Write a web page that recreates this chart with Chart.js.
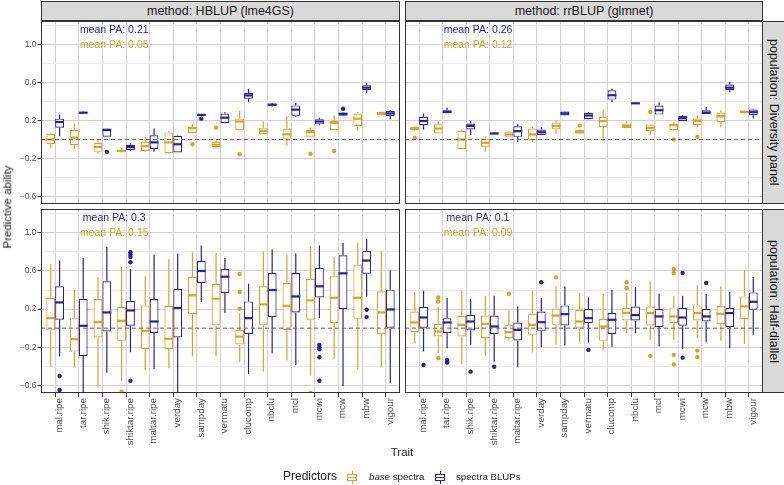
<!DOCTYPE html>
<html lang="en">
<head>
<meta charset="UTF-8" />
<title>Predictive ability by trait</title>
<script src="https://cdn.jsdelivr.net/npm/chart.js"></script>
<style>
  body { margin: 0; background: #fff; }
  #fig { position: relative; width: 784px; height: 485px; overflow: hidden;
         font-family: "Liberation Sans", Arial, sans-serif; color: #1a1a1a; }
  #fig canvas { position: absolute; }
  .strip { position: absolute; box-sizing: border-box; background: #d9d9d9; border: 1px solid #333;
           font-size: 12.5px; display: flex; align-items: center; justify-content: center; white-space: nowrap; }
  .strip.side { writing-mode: vertical-rl; }
  .lbl { position: absolute; white-space: nowrap; line-height: 1; }
  .key { position: absolute; width: 10px; height: 13px; }
  .key i { position: absolute; display: block; }
  .key .wh { left: 4.5px; top: 0; width: 1.2px; height: 13px; }
  .key .bx { left: 0; top: 3px; width: 10px; height: 7px; box-sizing: border-box; border: 1.2px solid; background: #fff; }
  .key .md { left: 0; right: 0; top: 1.6px; height: 1.6px; }
</style>
</head>
<body>
<div id="fig">
  <div class="strip" style="left:41px;top:1px;width:359px;height:20px">method: HBLUP (lme4GS)</div>
  <div class="strip" style="left:405px;top:1px;width:358px;height:20px">method: rrBLUP (glmnet)</div>
  <div class="strip side" style="left:762px;top:21px;width:24px;height:183px">population: Diversity panel</div>
  <div class="strip side" style="left:762px;top:209px;width:24px;height:184px">population: Half-diallel</div>

  <canvas id="c1" width="400" height="183" style="left:0;top:21px"></canvas>
  <canvas id="c2" width="358" height="183" style="left:405px;top:21px"></canvas>
  <canvas id="c3" width="400" height="246" style="left:0;top:209px"></canvas>
  <canvas id="c4" width="358" height="246" style="left:405px;top:209px"></canvas>

  <div class="lbl" style="left:8px;top:207px;font-size:11.5px;transform:translate(-50%,-50%) rotate(-90deg)">Predictive ability</div>
  <div class="lbl" style="left:402px;top:453px;font-size:11.5px;transform:translate(-50%,-50%)">Trait</div>

  <div class="lbl" style="left:283px;top:470px;font-size:12px">Predictors</div>
  <div class="key" style="left:347px;top:471px"><i class="wh" style="background:#DBA229"></i><i class="bx" style="border-color:#DBA229"><i class="md" style="background:#DBA229"></i></i></div>
  <div class="lbl" style="left:369px;top:472px;font-size:9.7px"><i>base</i> spectra</div>
  <div class="key" style="left:435px;top:471px"><i class="wh" style="background:#23239B"></i><i class="bx" style="border-color:#23239B"><i class="md" style="background:#23239B"></i></i></div>
  <div class="lbl" style="left:456px;top:472px;font-size:9.7px">spectra BLUPs</div>
</div>

<script>
  const traits = ['mal.ripe', 'tar.ripe', 'shik.ripe', 'shiktar.ripe', 'maltar.ripe', 'verday', 'sampday',
    'vermatu', 'clucomp', 'nbclu', 'mcl', 'mcwi', 'mcw', 'mbw', 'vigour'];
  const yTicks = [-0.6, -0.4, -0.2, 0, 0.2, 0.4, 0.6, 0.8, 1.0, 1.2];
  const yLabelled = [-0.6, -0.2, 0.2, 0.6, 1.0];

  // each box: [lower whisker, q1, median, q3, upper whisker]
  const hblupDiversityBase = [
    [-0.09, -0.05, 0.0, 0.06, 0.075], [-0.1, -0.06, 0.02, 0.1, 0.17], [-0.15, -0.13, -0.08, -0.035, 0.0],
    [-0.14, -0.135, -0.12, -0.11, -0.085], [-0.13, -0.12, -0.07, -0.025, 0.03], [-0.15, -0.145, -0.03, 0.075, 0.09],
    [0.065, 0.07, 0.12, 0.135, 0.17], [-0.095, -0.08, -0.055, -0.025, -0.005], [0.1, 0.1, 0.19, 0.22, 0.3],
    [0.055, 0.055, 0.09, 0.125, 0.19], [-0.065, 0.01, 0.055, 0.115, 0.245], [0.03, 0.03, 0.08, 0.1, 0.125],
    [0.1, 0.1, 0.175, 0.195, 0.255], [0.09, 0.14, 0.22, 0.275, 0.29], [0.25, 0.255, 0.275, 0.29, 0.295]];
  const hblupDiversityBaseOut = [[], [], [], [], [], [], [-0.05], [0.125], [-0.155], [], [], [-0.15], [-0.12], [], []];
  const hblupDiversityBlup = [
    [0.035, 0.125, 0.185, 0.22, 0.265], [0.27, 0.275, 0.283, 0.29, 0.295], [0.03, 0.03, 0.1, 0.115, 0.12],
    [-0.12, -0.11, -0.08, -0.055, -0.04], [-0.13, -0.1, -0.03, 0.045, 0.115], [-0.137, -0.137, -0.05, 0.04, 0.045],
    [0.245, 0.25, 0.26, 0.265, 0.27], [0.175, 0.175, 0.23, 0.275, 0.29], [0.395, 0.43, 0.465, 0.49, 0.535],
    [0.345, 0.355, 0.368, 0.378, 0.385], [0.24, 0.25, 0.315, 0.36, 0.385], [0.15, 0.16, 0.19, 0.215, 0.23],
    [0.245, 0.25, 0.27, 0.285, 0.29], [0.49, 0.52, 0.547, 0.572, 0.595], [0.21, 0.245, 0.275, 0.3, 0.31]];
  const hblupDiversityBlupOut = [[], [], [-0.13], [], [], [], [0.22], [], [], [], [], [], [0.325], [], []];

  const rrblupDiversityBase = [
    [0.09, 0.098, 0.116, 0.133, 0.14], [0.053, 0.063, 0.116, 0.161, 0.196], [-0.1, -0.1, 0.0, 0.09, 0.105],
    [-0.13, -0.077, -0.035, 0.01, 0.035], [0.028, 0.028, 0.053, 0.077, 0.088], [-0.025, -0.007, 0.053, 0.116, 0.133],
    [0.063, 0.105, 0.144, 0.179, 0.2], [0.06, 0.063, 0.077, 0.1, 0.105], [-0.014, 0.133, 0.196, 0.239, 0.316],
    [0.115, 0.119, 0.144, 0.168, 0.193], [0.046, 0.091, 0.123, 0.158, 0.16], [0.09, 0.098, 0.151, 0.168, 0.186],
    [0.13, 0.151, 0.196, 0.221, 0.256], [0.126, 0.186, 0.246, 0.284, 0.309], [0.275, 0.281, 0.291, 0.305, 0.31]];
  const rrblupDiversityBaseOut = [[0.02], [], [], [], [], [], [], [0.147], [], [], [0.29], [0.0], [0.028], [], []];
  const rrblupDiversityBlup = [
    [0.105, 0.151, 0.196, 0.239, 0.274], [0.28, 0.28, 0.29, 0.31, 0.337], [0.046, 0.105, 0.144, 0.168, 0.196],
    [0.055, 0.056, 0.063, 0.074, 0.076], [-0.025, 0.028, 0.088, 0.14, 0.161], [0.045, 0.049, 0.077, 0.105, 0.133],
    [0.25, 0.253, 0.274, 0.295, 0.3], [0.21, 0.214, 0.253, 0.281, 0.29], [0.396, 0.421, 0.467, 0.519, 0.537],
    [0.376, 0.379, 0.382, 0.386, 0.388], [0.263, 0.263, 0.309, 0.358, 0.393], [0.196, 0.196, 0.225, 0.249, 0.255],
    [0.267, 0.267, 0.284, 0.309, 0.344], [0.495, 0.519, 0.547, 0.579, 0.607], [0.221, 0.256, 0.288, 0.316, 0.325]];
  const rrblupDiversityBlupOut = [[], [], [], [], [], [], [], [], [], [], [], [], [], [], []];

  const hblupDiallelBase = [
    [-0.404, -0.025, 0.105, 0.316, 0.674], [-0.404, -0.246, -0.116, 0.105, 0.404], [-0.621, -0.098, 0.063, 0.305, 0.537],
    [-0.551, -0.133, 0.077, 0.221, 0.642], [-0.439, -0.218, -0.028, 0.239, 0.544], [-0.421, -0.218, -0.112, 0.235, 0.726],
    [-0.298, 0.147, 0.344, 0.54, 0.796], [-0.291, 0.028, 0.309, 0.463, 0.789], [-0.351, -0.172, -0.088, -0.018, 0.158],
    [-0.456, 0.035, 0.249, 0.439, 0.807], [-0.34, -0.021, 0.235, 0.474, 0.772], [-0.498, 0.088, 0.291, 0.516, 0.86],
    [-0.323, 0.053, 0.319, 0.551, 0.747], [-0.432, 0.098, 0.319, 0.667, 0.895], [-0.411, -0.06, 0.165, 0.386, 0.807]];
  const hblupDiallelBaseOut = [[], [], [], [-0.667], [], [], [], [], [0.568, 0.379, 0.204], [], [], [-0.68], [], [], []];
  const hblupDiallelBlup = [
    [-0.298, 0.088, 0.27, 0.439, 0.709], [-0.75, -0.291, 0.025, 0.309, 0.737], [-0.467, -0.035, 0.165, 0.491, 0.853],
    [-0.253, 0.025, 0.186, 0.288, 0.621], [-0.43, -0.05, 0.07, 0.305, 0.772], [-0.75, -0.098, 0.211, 0.411, 0.782],
    [0.274, 0.474, 0.6, 0.705, 0.867], [0.158, 0.368, 0.54, 0.621, 0.737], [-0.481, -0.06, 0.105, 0.281, 0.467],
    [-0.263, 0.116, 0.4, 0.579, 0.825], [-0.386, 0.165, 0.333, 0.579, 0.782], [0.105, 0.323, 0.439, 0.632, 0.867],
    [-0.607, 0.2, 0.575, 0.765, 0.895], [0.333, 0.572, 0.709, 0.811, 0.937], [-0.572, 0.0, 0.196, 0.404, 0.607]];
  const hblupDiallelBlupOut = [[-0.502, -0.649], [], [], [0.796, 0.772, 0.747, 0.691, -0.551], [], [], [], [], [], [], [],
    [-0.175, -0.2, -0.221, -0.305, -0.551], [], [0.193, 0.116], []];

  const rrblupDiallelBase = [
    [-0.158, -0.042, 0.06, 0.175, 0.379], [-0.263, -0.088, -0.035, 0.046, 0.221], [-0.379, -0.088, 0.035, 0.13, 0.393],
    [-0.288, -0.105, 0.046, 0.133, 0.34], [-0.13, -0.105, -0.042, 0.035, 0.193], [-0.256, -0.07, 0.035, 0.151, 0.393],
    [-0.175, 0.035, 0.133, 0.207, 0.439], [-0.151, 0.0, 0.07, 0.193, 0.368], [-0.235, -0.133, 0.018, 0.095, 0.361],
    [-0.053, 0.081, 0.161, 0.211, 0.368], [-0.123, 0.028, 0.158, 0.228, 0.491], [-0.123, 0.053, 0.123, 0.218, 0.34],
    [-0.105, 0.081, 0.158, 0.239, 0.456], [-0.133, 0.042, 0.151, 0.232, 0.439], [-0.165, 0.095, 0.228, 0.333, 0.614]];
  const rrblupDiallelBaseOut = [[], [0.323, 0.281, -0.316], [], [], [0.361], [], [0.533], [], [], [0.481, 0.418], [-0.291],
    [0.62, 0.58, -0.28, -0.38], [-0.235, -0.305], [], []];
  const rrblupDiallelBlup = [
    [-0.246, 0.0, 0.112, 0.221, 0.393], [-0.211, -0.053, 0.06, 0.105, 0.316], [-0.175, -0.025, 0.07, 0.14, 0.309],
    [-0.351, -0.063, 0.018, 0.133, 0.34], [-0.404, -0.13, -0.018, 0.06, 0.228], [-0.2, -0.028, 0.063, 0.175, 0.316],
    [-0.182, 0.028, 0.147, 0.239, 0.439], [-0.151, 0.053, 0.105, 0.2, 0.323], [-0.2, -0.06, 0.088, 0.158, 0.404],
    [-0.053, 0.081, 0.137, 0.228, 0.428], [-0.193, 0.011, 0.123, 0.204, 0.361], [-0.221, 0.025, 0.112, 0.211, 0.34],
    [-0.147, 0.07, 0.123, 0.204, 0.358], [-0.211, 0.011, 0.158, 0.211, 0.379], [-0.07, 0.193, 0.277, 0.375, 0.537]];
  const rrblupDiallelBlupOut = [[-0.386], [-0.333, -0.351, -0.361], [-0.456], [-0.404], [], [0.481], [], [-0.228], [], [], [],
    [0.579, -0.309], [0.474], [], []];

  // panel order: HBLUP/Diversity, rrBLUP/Diversity, HBLUP/Half-diallel, rrBLUP/Half-diallel
  const meanPaBlup = [0.21, 0.26, 0.3, 0.1];
  const meanPaBase = [0.05, 0.12, 0.15, 0.09];

  const ORANGE = '#DBA229';
  const BLUE = '#23239B';
  Chart.defaults.font.family = '"Liberation Sans", Arial, sans-serif';

  const isMajor = (v) => yLabelled.some((m) => Math.abs(m - v) < 1e-6);

  // fixed axis sizes so every panel lines up, no label overflow padding
  const fixSize = (s, size) => {
    if (s.isHorizontal()) s.height = size; else s.width = size;
    s.paddingTop = 0;
    s.paddingBottom = 0;
    s.paddingLeft = 0;
    s.paddingRight = 0;
  };

  // whiskers, medians, outliers, zero line, mean PA labels and panel border
  const boxPlugin = {
    id: 'boxExtras',
    afterDatasetsDraw(chart) {
      const { ctx, chartArea: a, scales: { y } } = chart;
      ctx.save();
      ctx.beginPath();
      ctx.rect(a.left, a.top, a.right - a.left, a.bottom - a.top);
      ctx.clip();
      chart.data.datasets.forEach((ds, di) => {
        chart.getDatasetMeta(di).data.forEach((bar, i) => {
          const s = ds.stats[i];
          const half = bar.width / 2;
          ctx.strokeStyle = ds.borderColor;
          ctx.lineWidth = 1.2;
          ctx.beginPath();
          ctx.moveTo(bar.x, y.getPixelForValue(s[3]));
          ctx.lineTo(bar.x, y.getPixelForValue(s[4]));
          ctx.moveTo(bar.x, y.getPixelForValue(s[1]));
          ctx.lineTo(bar.x, y.getPixelForValue(s[0]));
          ctx.stroke();
          const ym = y.getPixelForValue(s[2]);
          ctx.lineWidth = 2.2;
          ctx.beginPath();
          ctx.moveTo(bar.x - half, ym);
          ctx.lineTo(bar.x + half, ym);
          ctx.stroke();
          ctx.fillStyle = ds.borderColor;
          ds.outliers[i].forEach((v) => {
            ctx.beginPath();
            ctx.arc(bar.x, y.getPixelForValue(v), 2.2, 0, 2 * Math.PI);
            ctx.fill();
          });
        });
      });
      const y0 = y.getPixelForValue(0);
      ctx.strokeStyle = '#666';
      ctx.lineWidth = 1;
      ctx.setLineDash([4, 3]);
      ctx.beginPath();
      ctx.moveTo(a.left, y0);
      ctx.lineTo(a.right, y0);
      ctx.stroke();
      ctx.restore();
    },
    afterDraw(chart) {
      const { ctx, chartArea: a, scales: { x, y } } = chart;
      const p = chart.options.plugins.boxExtras;
      ctx.save();
      ctx.font = '10.5px "Liberation Sans", Arial, sans-serif';
      ctx.textAlign = 'center';
      ctx.textBaseline = 'middle';
      const xm = x.getPixelForValue(2.5);
      ctx.fillStyle = BLUE;
      ctx.fillText('mean PA: ' + meanPaBlup[p.panel], xm, y.getPixelForValue(1.15));
      ctx.fillStyle = ORANGE;
      ctx.fillText('mean PA: ' + meanPaBase[p.panel], xm, y.getPixelForValue(1.0));
      ctx.strokeStyle = '#333';
      ctx.lineWidth = 1;
      ctx.strokeRect(a.left + 0.5, a.top + 0.5, a.right - a.left - 1, a.bottom - a.top - 1);
      ctx.restore();
    }
  };

  function boxDataset(label, stats, outliers, color) {
    return {
      label: label,
      data: stats.map((s, i) => ({ x: i, y: [s[1], s[3]] })),
      stats: stats,
      outliers: outliers,
      backgroundColor: '#ffffff',
      borderColor: color,
      borderWidth: 1.2,
      borderSkipped: false
    };
  }

  function drawPanel(id, panel, base, baseOut, blup, blupOut, leftCol, bottomRow) {
    new Chart(document.getElementById(id), {
      type: 'bar',
      data: {
        datasets: [
          boxDataset('base spectra', base, baseOut, ORANGE),
          boxDataset('spectra BLUPs', blup, blupOut, BLUE)
        ]
      },
      plugins: [boxPlugin],
      options: {
        responsive: false,
        animation: false,
        layout: { padding: 0, autoPadding: false },
        categoryPercentage: 0.75,
        barPercentage: 1,
        plugins: { legend: { display: false }, tooltip: { enabled: false }, boxExtras: { panel: panel } },
        scales: {
          x: {
            type: 'linear',
            min: -0.6,
            max: 14.6,
            offset: false,
            afterBuildTicks: (s) => { s.ticks = traits.map((t, i) => ({ value: i })); },
            afterFit: (s) => fixSize(s, bottomRow ? 62 : 0),
            border: { display: false },
            grid: { offset: false, color: '#d2d2d2', lineWidth: 1, drawTicks: bottomRow, tickLength: 4, tickColor: '#333' },
            ticks: {
              display: bottomRow,
              autoSkip: false,
              minRotation: 90,
              maxRotation: 90,
              padding: 1,
              labelOffset: 4,
              color: '#4d4d4d',
              font: { size: 9.8 },
              callback: (v) => traits[v]
            }
          },
          y: {
            min: -0.68,
            max: 1.25,
            afterBuildTicks: (s) => { s.ticks = yTicks.map((v) => ({ value: v })); },
            afterFit: (s) => fixSize(s, leftCol ? 41 : 0),
            border: { display: false },
            grid: {
              color: (c) => (isMajor(c.tick.value) ? '#d2d2d2' : '#ececec'),
              lineWidth: 1,
              drawTicks: leftCol,
              tickLength: 3.5,
              tickColor: (c) => (isMajor(c.tick.value) ? '#333' : 'rgba(0,0,0,0)')
            },
            ticks: {
              display: leftCol,
              padding: 1,
              color: '#4d4d4d',
              font: { size: 8.5 },
              callback: (v) => (isMajor(v) ? (v < 0 ? '\u2212' : '') + Math.abs(v).toFixed(1) : '')
            }
          }
        }
      }
    });
  }

  drawPanel('c1', 0, hblupDiversityBase, hblupDiversityBaseOut, hblupDiversityBlup, hblupDiversityBlupOut, true, false);
  drawPanel('c2', 1, rrblupDiversityBase, rrblupDiversityBaseOut, rrblupDiversityBlup, rrblupDiversityBlupOut, false, false);
  drawPanel('c3', 2, hblupDiallelBase, hblupDiallelBaseOut, hblupDiallelBlup, hblupDiallelBlupOut, true, true);
  drawPanel('c4', 3, rrblupDiallelBase, rrblupDiallelBaseOut, rrblupDiallelBlup, rrblupDiallelBlupOut, false, true);
</script>
</body>
</html>
